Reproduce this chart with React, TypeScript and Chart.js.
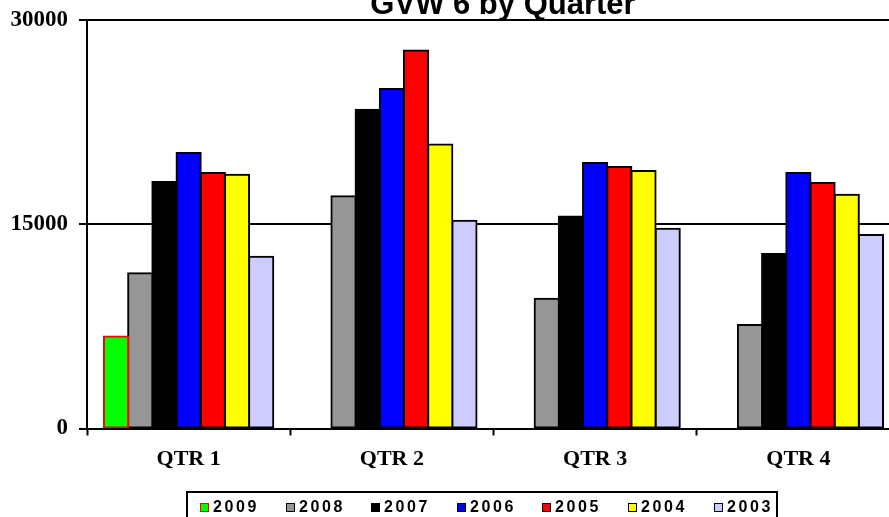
import React, { useEffect, useRef } from "react";
import { Chart, registerables } from "chart.js";

Chart.register(...registerables);

const TITLE = "GVW 6 by Quarter";
const categories = ["QTR 1", "QTR 2", "QTR 3", "QTR 4"];
const seriesLabels = ["2009", "2008", "2007", "2006", "2005", "2004", "2003"];
const s2009 = [6750, null, null, null];
const s2008 = [11400, 17050, 9520, 7610];
const s2007 = [18100, 23400, 15570, 12810];
const s2006 = [20240, 24940, 19500, 18770];
const s2005 = [18770, 27760, 19210, 18030];
const s2004 = [18640, 20850, 18910, 17170];
const s2003 = [12610, 15260, 14670, 14210];
const yTicks = [0, 15000, 30000];

const seriesValues = [s2009, s2008, s2007, s2006, s2005, s2004, s2003];
const fillColors = ["#00FF00", "#969696", "#000000", "#0000FF", "#FF0000", "#FFFF00", "#CCCCFF"];
const borderColors = ["#FF0000", "#000000", "#000000", "#000000", "#000000", "#000000", "#000000"];

const SERIF = '"Liberation Serif", "Times New Roman", serif';
const SANS = '"Liberation Sans", Arial, sans-serif';

const overlayPlugin = {
  id: "overlay",
  afterDraw(chart: any) {
    const ctx = chart.ctx as CanvasRenderingContext2D;
    const area = chart.chartArea;
    ctx.save();
    // Title (mostly clipped at the top, as in the reference)
    ctx.font = `bold 31px ${SANS}`;
    ctx.fillStyle = "#000";
    ctx.textAlign = "center";
    ctx.textBaseline = "alphabetic";
    ctx.fillText(TITLE, 503, area.top - 6);

    // Legend
    const boxLeft = 187;
    const boxRight = 777;
    const boxTop = 492;
    const boxBottom = boxTop + 32;
    ctx.fillStyle = "#fff";
    ctx.fillRect(boxLeft, boxTop, boxRight - boxLeft, boxBottom - boxTop);
    ctx.strokeStyle = "#000";
    ctx.lineWidth = 2;
    ctx.strokeRect(boxLeft, boxTop, boxRight - boxLeft, boxBottom - boxTop);
    const step = 85.6;
    const markerTop = 503;
    chart.data.datasets.forEach((ds: any, i: number) => {
      const mx = Math.round(boxLeft + 13 + i * step);
      ctx.fillStyle = ds.backgroundColor;
      ctx.fillRect(mx, markerTop, 9, 9);
      ctx.strokeStyle = ds.borderColor;
      ctx.lineWidth = 1;
      ctx.strokeRect(mx + 0.5, markerTop + 0.5, 8, 8);
      ctx.fillStyle = "#000";
      (ctx as any).letterSpacing = "2.6px";
      ctx.font = `bold 16px ${SANS}`;
      ctx.textAlign = "left";
      ctx.textBaseline = "middle";
      ctx.fillText(ds.label, mx + 13, markerTop + 5);
      (ctx as any).letterSpacing = "0px";
    });
    ctx.restore();
  },
};

export default function App() {
  const canvasRef = useRef<HTMLCanvasElement | null>(null);

  useEffect(() => {
    const canvas = canvasRef.current;
    if (!canvas) return;
    const chart = new Chart(canvas, {
      type: "bar",
      data: {
        labels: categories,
        datasets: seriesLabels.map((label, i) => ({
          label,
          data: seriesValues[i],
          backgroundColor: fillColors[i],
          borderColor: borderColors[i],
          borderWidth: 2,
          inflateAmount: 1,
          borderSkipped: false,
          barPercentage: 1,
          categoryPercentage: 0.833,
        })),
      },
      options: {
        responsive: false,
        animation: false,
        events: [],
        layout: { padding: { top: 20, right: 10, left: 0, bottom: 0 } },
        plugins: {
          legend: { display: false },
          title: { display: false },
          tooltip: { enabled: false },
        },
        scales: {
          x: {
            grid: {
              display: true,
              drawOnChartArea: false,
              drawTicks: true,
              tickLength: 7,
              tickWidth: 2,
              tickColor: "#000",
              offset: true,
            },
            border: { display: true, color: "#000", width: 2 },
            ticks: {
              color: "#000",
              padding: 11,
              font: { family: SERIF, size: 22, weight: "bold" },
            },
            afterFit: (scale: any) => {
              scale.height = 101.5;
              scale.paddingLeft = 0;
              scale.paddingRight = 0;
            },
          },
          y: {
            min: 0,
            max: 30000,
            afterBuildTicks: (scale: any) => {
              scale.ticks = yTicks.map((v) => ({ value: v }));
            },
            grid: {
              display: true,
              color: "#000",
              lineWidth: 2,
              drawTicks: true,
              tickLength: 8,
              tickColor: "#000",
              tickWidth: 2,
            },
            border: { display: true, color: "#000", width: 2 },
            ticks: {
              color: "#000",
              padding: 11,
              font: { family: SERIF, size: 23, weight: "bold" },
              callback: (v: any) => String(v),
            },
            afterFit: (scale: any) => {
              scale.width = 87;
              scale.paddingTop = 0;
              scale.paddingBottom = 0;
            },
          },
        },
      },
      plugins: [overlayPlugin],
    } as any);
    return () => chart.destroy();
  }, []);

  return (
    <div
      style={{
        position: "fixed",
        left: 0,
        top: 0,
        width: 889,
        height: 517,
        overflow: "hidden",
        background: "#fff",
      }}
    >
      <canvas
        ref={canvasRef}
        width={910}
        height={530}
        style={{ position: "absolute", left: 0, top: 0, width: 910, height: 530 }}
      />
    </div>
  );
}
